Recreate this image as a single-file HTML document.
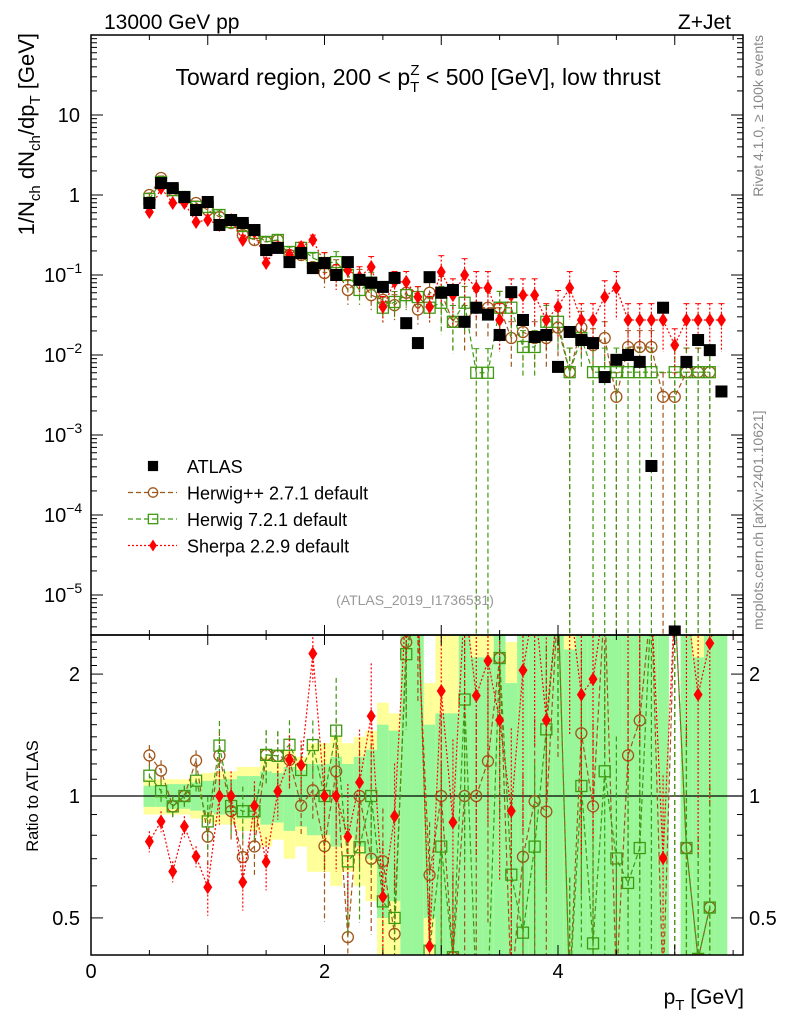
<!DOCTYPE html>
<html><head><meta charset="utf-8"><style>
html,body{margin:0;padding:0;background:#fff;width:786px;height:1024px;overflow:hidden;}
svg{display:block;font-family:"Liberation Sans",sans-serif;}
</style></head><body>
<svg id="c" width="786" height="1024" viewBox="0 0 786 1024">
<defs>
<clipPath id="cm"><rect x="91" y="35" width="652" height="600"/></clipPath>
<clipPath id="cr"><rect x="91" y="635" width="652" height="320"/></clipPath>
</defs>
<g id="bands" clip-path="url(#cr)"></g>
<g id="ratio" clip-path="url(#cr)"></g>
<g id="main" clip-path="url(#cm)"></g>
<g id="axes"></g>
<text x="104" y="29" font-size="21">13000 GeV pp</text>
<text x="731" y="29" font-size="21" text-anchor="end">Z+Jet</text>
<text x="418" y="85" font-size="23" text-anchor="middle">Toward region, 200 &lt; p<tspan font-size="15" dy="7">T</tspan><tspan font-size="15" dx="-9" dy="-17">Z</tspan><tspan dy="10"> &lt; 500 [GeV], low thrust</tspan></text>
<text transform="translate(34,33) rotate(-90)" font-size="22" text-anchor="end">1/N<tspan font-size="15" dy="6">ch</tspan><tspan dy="-6"> dN</tspan><tspan font-size="15" dy="6">ch</tspan><tspan dy="-6">/dp</tspan><tspan font-size="15" dy="6">T</tspan><tspan dy="-6"> [GeV]</tspan></text>
<text transform="translate(38,796) rotate(-90)" font-size="16.5" text-anchor="middle">Ratio to ATLAS</text>
<text x="744" y="1004" font-size="21" text-anchor="end">p<tspan font-size="15" dy="6">T</tspan><tspan dy="-6"> [GeV]</tspan></text>
<text transform="translate(763,35) rotate(-90)" font-size="14" fill="#888" text-anchor="end">Rivet 4.1.0, ≥ 100k events</text>
<text transform="translate(763,630) rotate(-90)" font-size="14" fill="#888">mcplots.cern.ch [arXiv:2401.10621]</text>
<text x="415" y="605" font-size="14" fill="#999" text-anchor="middle">(ATLAS_2019_I1736531)</text>
<g id="legend"></g>
</svg>
<script>
const pT=[];for(let i=0;i<50;i++)pT.push(+(0.5+0.1*i).toFixed(1));
const atlas=[0.794,1.41,1.22,0.944,0.649,0.818,0.422,0.487,0.447,0.365,0.205,0.218,0.145,0.188,0.122,0.141,0.1,0.145,0.087,0.080,0.071,0.092,0.025,0.0141,0.094,0.060,0.065,0.026,0.039,0.032,0.0178,0.061,0.0274,0.0168,0.0178,0.0071,0.0194,0.0154,0.0141,0.0053,0.0087,0.01,0.0082,0.00041,0.039,0.0000035,0.0082,0.0154,0.0115,0.0035];
const herwigpp=[1.0,1.63,1.15,0.944,0.794,0.649,0.531,0.447,0.316,0.274,0.259,0.274,0.178,0.178,0.126,0.106,0.115,0.065,0.087,0.056,0.049,0.042,0.060,0.037,0.060,0.060,0.026,0.026,0.039,0.039,0.039,0.0163,0.0194,0.0163,0.0163,0.022,0.0061,0.022,0.0133,0.0163,0.0030,0.0126,0.0126,0.0126,0.003,0.003,0.0061,0.0061,0.0061,null];
const herwig7=[0.891,1.45,1.15,0.944,0.708,0.708,0.562,0.46,0.41,0.335,0.259,0.274,0.194,0.218,0.163,0.141,0.145,0.1,0.065,0.080,0.039,0.046,0.056,0.053,0.039,0.045,0.026,0.045,0.006,0.006,0.039,0.039,0.0126,0.0126,0.026,0.026,0.0061,0.0163,0.0061,0.0061,0.0061,0.0061,0.0061,0.0061,null,0.0061,0.0061,0.0061,0.0061,null];
const sherpa=[0.613,1.22,0.794,0.794,0.46,0.487,0.422,0.487,0.274,0.345,0.141,0.224,0.178,0.224,0.274,0.141,0.1,0.115,0.094,0.126,0.040,0.082,0.082,0.053,0.040,0.109,0.056,0.1,0.069,0.069,0.0274,0.056,0.056,0.056,0.0274,0.040,0.069,0.0274,0.0274,0.053,0.069,0.0274,0.0274,0.0274,0.0274,0.0133,0.0274,0.0274,0.0274,0.0274];
const statErr=[0.06,0.06,0.07,0.07,0.08,0.09,0.1,0.1,0.12,0.12,0.15,0.14,0.18,0.16,0.2,0.2,0.25,0.2,0.25,0.3,0.5,0.45,1.6,1.6,0.5,0.6,0.6,1.6,1.2,1.2,1.6,0.9,1.6,1.6,1.6,1.6,1.3,1.6,1.6,1.6,1.6,1.6,1.6,1.6,1.6,null,1.6,1.2,1.6,1.6];
const totErr=[0.1,0.1,0.1,0.1,0.12,0.14,0.15,0.15,0.18,0.18,0.25,0.22,0.3,0.25,0.35,0.35,0.4,0.35,0.4,0.45,0.7,0.6,2,2,0.9,1.6,1.6,2,1.6,1.6,2,1.4,2,2,2,2,2,2,2,2,2,2,2,2,2,null,2,1.6,2,2];
const xTicks=[0,2,4];
const mainTicks=[10,1,0.1,0.01,0.001,0.0001,0.00001];
const mainTickLabels=["10","1","10|−1","10|−2","10|−3","10|−4","10|−5"];
const ratioTicks=[0.5,1,2];
const ratioTickLabels=["0.5","1","2"];

const NS="http://www.w3.org/2000/svg";
function el(tag,attrs,parent){const e=document.createElementNS(NS,tag);for(const k in attrs)e.setAttribute(k,attrs[k]);parent.appendChild(e);return e;}
const cl=(v,a,b)=>Math.max(a,Math.min(b,v));
const X=p=>91+p*116.75;
const Y=v=>cl(195-80*Math.log10(v),20,650);
const RY=r=>cl(796-405*Math.log10(r),600,990);
const HW=0.05*116.75;
const bands=document.getElementById('bands'),ratio=document.getElementById('ratio'),main=document.getElementById('main'),axes=document.getElementById('axes'),legend=document.getElementById('legend');

pT.forEach((p,i)=>{
  const t=totErr[i],s=statErr[i];
  if(t!==null){
    const yl=el('rect',{x:X(p)-HW,width:2*HW,y:RY(1+t),height:RY(Math.max(1-t,0.05))-RY(1+t),fill:'#ffff99'},bands);
    
    
  }
  if(s!==null){
    const g=el('rect',{x:X(p)-HW,width:2*HW,y:RY(1+s),height:RY(Math.max(1-s,0.05))-RY(1+s),fill:'#99f799'},bands);
    
    
  }
});
const one=el('line',{x1:91,x2:743,y1:RY(1),y2:RY(1),stroke:'#000','stroke-width':1.3},ratio);



function mcErr(p,v){ if(v<0.0065) return 1; return p<1?0.06:p<2?0.15:p<3?0.35:0.6; }

const series=[
 {name:'herwigpp',vals:herwigpp,color:'#a0561a',dash:'5,3',mk:'circle'},
 {name:'herwig7',vals:herwig7,color:'#3f9a12',dash:'5,3',mk:'square'},
 {name:'sherpa',vals:sherpa,color:'#ff0000',dash:'2,2',mk:'diamond'}
];
function marker(parent,mk,x,y,color,sc){
  sc=sc||1;let m;
  if(mk==='circle') m=el('circle',{cx:x,cy:y,r:5.5*sc,fill:'none',stroke:color,'stroke-width':1.3},parent);
  else if(mk==='square') m=el('rect',{x:x-5.5*sc,y:y-5.5*sc,width:11*sc,height:11*sc,fill:'none',stroke:color,'stroke-width':1.3},parent);
  else if(mk==='diamond') m=el('polygon',{points:`${x},${y-7*sc} ${x+4.5*sc},${y} ${x},${y+7*sc} ${x-4.5*sc},${y}`,fill:color},parent);
  else m=el('rect',{x:x-6*sc,y:y-6*sc,width:12*sc,height:12*sc,fill:color},parent);
  return m;
}
series.forEach(s=>{
  const gm=el('g',{},main);
  
  
  const gr=el('g',{},ratio);
  
  
  let pm=[],pr=[];
  pT.forEach((p,i)=>{const v=s.vals[i];if(v===null)return;pm.push(X(p)+','+Y(v));pr.push(X(p)+','+RY(v/atlas[i]));});
  const lm=el('polyline',{points:pm.join(' '),fill:'none',stroke:s.color,'stroke-width':1.2,'stroke-dasharray':s.dash},gm);
  
  
  const lr=el('polyline',{points:pr.join(' '),fill:'none',stroke:s.color,'stroke-width':1.2,'stroke-dasharray':s.dash},gr);
  
  
  pT.forEach((p,i)=>{
    const v=s.vals[i];if(v===null)return;
    const e=mcErr(p,v),x=X(p);
    const lo=e>=1?1e-7:v*(1-e),hi=v*(1+e);
    el('line',{x1:x,x2:x,y1:Y(hi),y2:Y(lo),stroke:s.color,'stroke-width':1.2,'stroke-dasharray':s.dash},gm);
    el('line',{x1:x-3,x2:x+3,y1:Y(hi),y2:Y(hi),stroke:s.color},gm);
    const r=v/atlas[i];
    el('line',{x1:x,x2:x,y1:RY(r*(1+e)),y2:RY(Math.max(r*(1-e),0.01)),stroke:s.color,'stroke-width':1.2,'stroke-dasharray':s.dash},gr);
    const m=marker(gm,s.mk,x,Y(v),s.color);
    
    
    const mr=marker(gr,s.mk,x,RY(r),s.color);
    
    
  });
});
pT.forEach((p,i)=>{
  const m=marker(main,'data',X(p),Y(atlas[i]),'#000');
  
  
});

const f1=el('rect',{x:91,y:35,width:652,height:600,fill:'none',stroke:'#000','stroke-width':1.5},axes);


const f2=el('rect',{x:91,y:635,width:652,height:320,fill:'none',stroke:'#000','stroke-width':1.5},axes);


for(let k=0;k<=11;k++){
  const p=k*0.5,x=X(p);if(x>743)break;
  const L=(k%2===0)?10:5;
  [[35,1],[635,-1],[635,1],[955,-1]].forEach(([y0,d])=>el('line',{x1:x,x2:x,y1:y0,y2:y0+d*L,stroke:'#000'},axes));
}
xTicks.forEach(t=>{const tx=el('text',{x:X(t),y:978,'font-size':20,'text-anchor':'middle'},axes);tx.textContent=t;
  
  });
for(let d=-6;d<=2;d++){
  for(let m=1;m<10;m++){
    const v=m*Math.pow(10,d),y=195-80*Math.log10(v);if(y<35||y>635)continue;
    const L=m===1?12:6;
    el('line',{x1:91,x2:91+L,y1:y,y2:y,stroke:'#000'},axes);
    el('line',{x1:743,x2:743-L,y1:y,y2:y,stroke:'#000'},axes);
  }
}
mainTicks.forEach((t,i)=>{
  const parts=mainTickLabels[i].split('|');
  const tx=el('text',{x:80,y:Y(t)+7,'font-size':20,'text-anchor':'end'},axes);
  
  
  if(parts.length>1){
    tx.setAttribute('x',44);tx.setAttribute('text-anchor','start');
    tx.textContent=parts[0];
    const s=el('tspan',{'font-size':14,dy:-9},tx);s.textContent=parts[1];
  } else tx.textContent=parts[0];
});
for(let r=0.4;r<=2.5;r+=0.1){
  const y=796-405*Math.log10(r);if(y<635||y>955)continue;
  const major=[0.5,1,2].some(v=>Math.abs(v-r)<1e-6);
  const L=major?12:6;
  el('line',{x1:91,x2:91+L,y1:y,y2:y,stroke:'#000'},axes);
  el('line',{x1:743,x2:743-L,y1:y,y2:y,stroke:'#000'},axes);
}
ratioTicks.forEach((t,i)=>{
  const a=el('text',{x:80,y:RY(t)+7,'font-size':20,'text-anchor':'end'},axes);a.textContent=ratioTickLabels[i];
  
  
  const b=el('text',{x:749,y:RY(t)+7,'font-size':20},axes);b.textContent=ratioTickLabels[i];
  
  
});
const leg=[['ATLAS','data','#000',null],['Herwig++ 2.7.1 default','circle','#a0561a','5,3'],['Herwig 7.2.1 default','square','#3f9a12','5,3'],['Sherpa 2.2.9 default','diamond','#ff0000','2,2']];
leg.forEach((l,i)=>{
  const y=466+i*26.5;
  const g=el('g',{},legend);
  
  
  if(l[3]) el('line',{x1:128,x2:177,y1:y,y2:y,stroke:l[2],'stroke-width':1.2,'stroke-dasharray':l[3]},g);
  marker(g,l[1],153,y,l[2],0.85);
  const t=el('text',{x:187,y:y+7,'font-size':18},g);t.textContent=l[0];
});
</script>
</body></html>
